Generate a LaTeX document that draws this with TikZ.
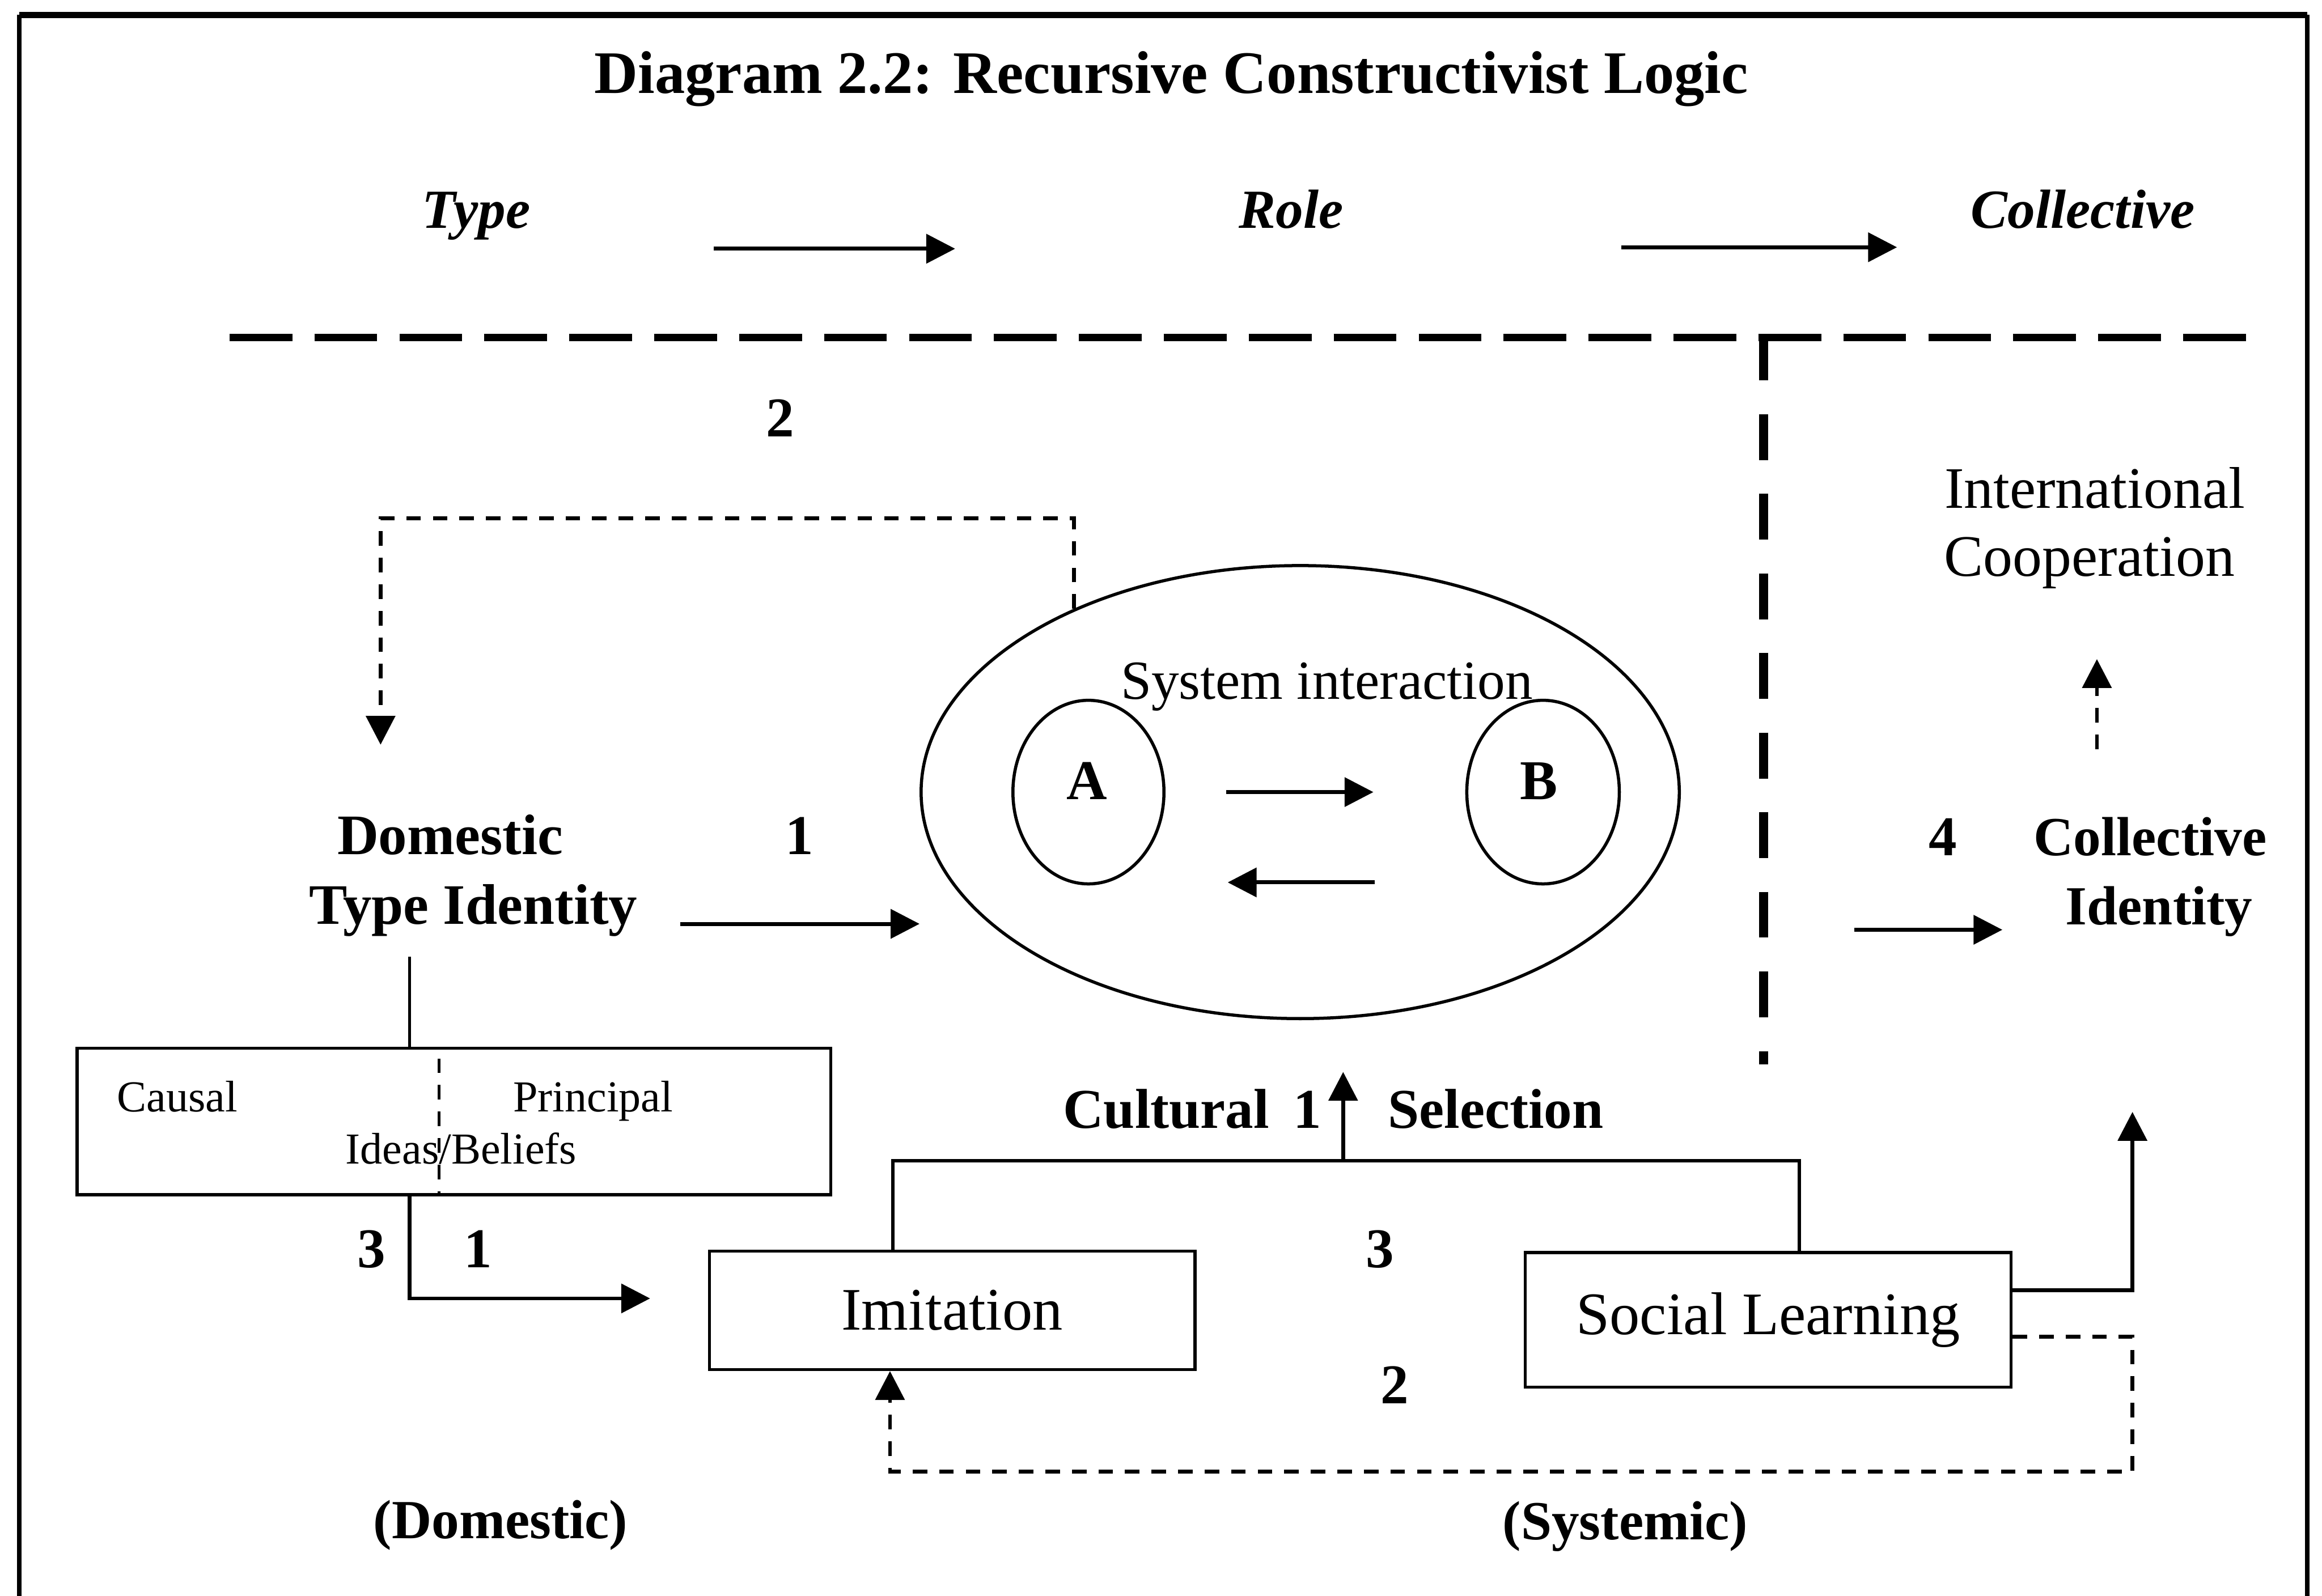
\documentclass[tikz,border=0pt]{standalone}
\usepackage{fontspec}
\setmainfont{Liberation Serif}
\usetikzlibrary{arrows.meta, shapes.geometric}

\begin{document}
\begin{tikzpicture}[
  x=0.1mm, y=-0.1mm,
  txt/.style={inner sep=0pt, anchor=base},
  hd/.style={txt, font=\fontsize{10.8}{13}\selectfont\bfseries},
  lev/.style={txt, font=\fontsize{10.6}{13}\selectfont\bfseries\itshape},
  plain/.style={txt, font=\fontsize{11.3}{13.5}\selectfont},
  small/.style={txt, font=\fontsize{8.5}{10}\selectfont},
  box/.style={draw, line width=.6pt, rectangle, inner sep=0pt,
              font=\fontsize{11.6}{14}\selectfont},
  oval/.style={draw, ellipse, line width=.6pt, inner sep=0pt},
  arr/.style={line width=.75pt, -{Triangle[length=1.95mm, width=1.95mm]}},
  fb/.style={line width=.7pt, dash pattern=on 2.8pt off 2.3pt},
]
\useasboundingbox (0,0) rectangle (1568,1078);

% frame, open at the bottom
\draw[line width=.8pt] (13,1078) -- (13,10);
\draw[line width=1.2pt] (13,10) -- (1558,10);
\draw[line width=.8pt] (1558,10) -- (1558,1078);

\node[txt, font=\fontsize{11.6}{14}\selectfont\bfseries] (title) at (791,63)
  {Diagram 2.2: Recursive Constructivist Logic};

% identity levels
\node[lev] (typ) at (321.5,154) {Type};
\node[lev] (role) at (872,154) {Role};
\node[lev] (coll) at (1406.5,154) {Collective};
\coordinate (tr1) at (482,168);
\coordinate (tr2) at (645,168);
\coordinate (rc1) at (1095,167);
\coordinate (rc2) at (1281,167);
\draw[arr] (tr1) -- (tr2);
\draw[arr] (rc1) -- (rc2);

% level boundaries
\draw[line width=1.4pt, dash pattern=on 12.05pt off 4.27pt] (155,228) -- (1520,228);
\draw[line width=1.7pt, dash pattern=on 8.8pt off 6.5pt] (1191,226) -- (1191,719);

% system interaction
\node[oval, minimum width=51.2mm, minimum height=30.6mm] (sys) at (878,535) {};
\node[txt, font=\fontsize{10.6}{13}\selectfont] (sysl) at (896,472) {System interaction};
\node[oval, minimum width=10.2mm, minimum height=12.4mm] (A) at (735,535) {};
\node[oval, minimum width=10.3mm, minimum height=12.4mm] (B) at (1042,535) {};
\node[hd] (Al) at (734,540) {A};
\node[hd] (Bl) at (1039,540) {B};
\draw[arr, shorten <=4.1mm, shorten >=6.2mm] (A.east) -- (B.west);
\draw[arr, shorten <=6.1mm, shorten >=4.2mm]
  ([yshift=-6.1mm]B.west) -- ([yshift=-6.1mm]A.east);

% domestic side
\node[hd, font=\fontsize{11}{13}\selectfont\bfseries] (dom) at (304,577) {Domestic};
\node[hd, font=\fontsize{11}{13}\selectfont\bfseries] (tid) at (319.6,624) {Type Identity};
\node[hd] (n1a) at (540,577) {1};
\node[hd] (n2a) at (527,295) {2};
\coordinate (tsin) at (459.5,624);
\draw[arr] (tsin) -- (tsin -| sys.west);

\coordinate (fbtip) at (257,503);
\draw[fb, arr] (sys.141.4) -- ++(0,-61) -| (fbtip);

\node[box, minimum width=50.9mm, minimum height=9.9mm] (ideas) at (306.5,757.5) {};
\node[small] (causal) at (119.8,751) {Causal};
\node[small] (princ) at (400.5,751) {Principal};
\node[small] (ideasb) at (311.4,786) {Ideas/Beliefs};
\draw[fb, line width=.6pt] ([xshift=-1mm]ideas.north) ++(0,8) -- ([xshift=-1mm]ideas.south);

\coordinate (split) at (276.5,646);
\draw[line width=.6pt] (split) -- (split |- ideas.north);
\coordinate (toimit) at (439,877);
\draw[arr] (split |- ideas.south) |- (toimit);
\node[hd] (n3a) at (251,856) {3};
\node[hd] (n1b) at (323,856) {1};

% systemic side
\node[box, minimum width=32.8mm, minimum height=8mm] (imit) at (643,885) {Imitation};
\node[box, minimum width=32.8mm, minimum height=9.1mm] (social) at (1194,891.5) {Social Learning};

\coordinate (sel) at (907,784);
\coordinate (seltip) at (907,724);
\draw[line width=.7pt] ([xshift=-4mm]imit.north) |- (sel) -| ([xshift=2.1mm]social.north);
\draw[arr] (sel) -- (seltip);
\node[hd] (cult) at (787.5,762) {Cultural};
\node[hd] (n1c) at (883,762) {1};
\node[hd] (selct) at (1010,762) {Selection};
\node[hd] (n3b) at (932,856) {3};
\node[hd] (n2b) at (942,948) {2};

\coordinate (citip) at (1440,751);
\draw[arr] ([yshift=2mm]social.east) -| (citip);
\coordinate (loopc) at (1440,994);
\draw[fb, arr] ([yshift=-1.15mm]social.east) -| (loopc) -| ([xshift=-4.2mm]imit.south);

% collective side
\node[plain] (intl) at (1414.5,343) {International};
\node[plain] (coop) at (1411,389) {Cooperation};
\node[hd] (n4) at (1312,578) {4};
\node[hd, font=\fontsize{10.6}{13}\selectfont\bfseries] (cole) at (1452,578) {Collective};
\node[hd, font=\fontsize{10.6}{13}\selectfont\bfseries] (iden) at (1458,624.5) {Identity};
\coordinate (cup) at (1416,506);
\draw[fb, arr, shorten >=4.7mm] (cup) -- (cup |- coop.south);
\coordinate (cin) at (1252,628);
\draw[arr, shorten >=4.2mm] (cin) -- (cin -| iden.west);

\node[hd, font=\fontsize{10.6}{13}\selectfont\bfseries] (dome) at (338,1039) {(Domestic)};
\node[hd, font=\fontsize{10.6}{13}\selectfont\bfseries] (syst) at (1097.5,1040) {(Systemic)};
\end{tikzpicture}
\end{document}
